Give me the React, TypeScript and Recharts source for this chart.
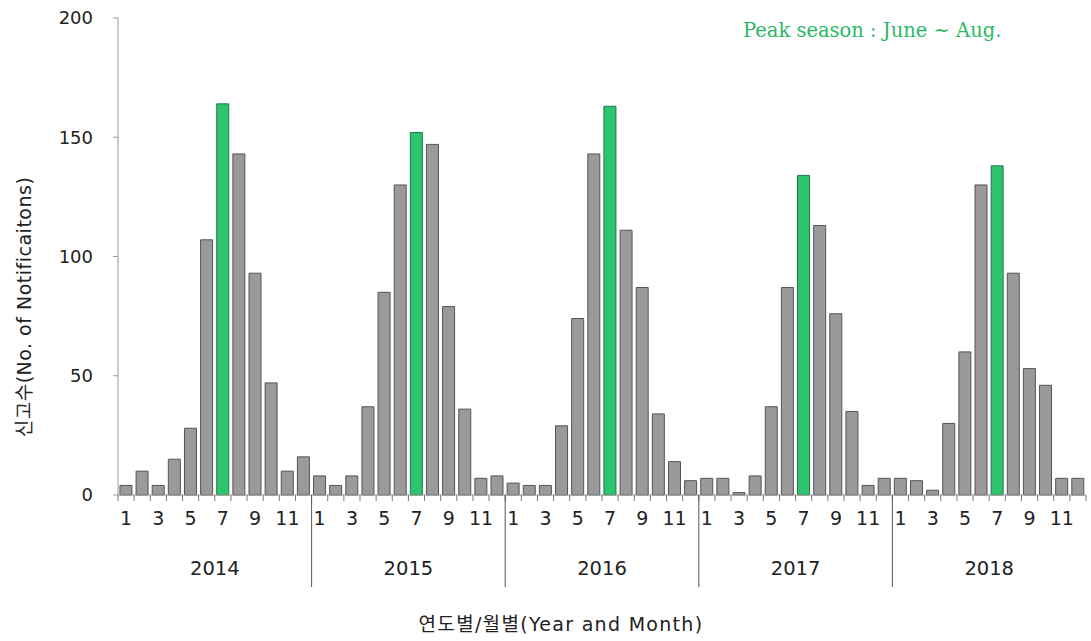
import React from 'react';
import { BarChart, Bar, XAxis, YAxis, Cell, Label } from 'recharts';

const years = [2014, 2015, 2016, 2017, 2018];
const months = [1, 2, 3, 4, 5, 6, 7, 8, 9, 10, 11, 12];
const values2014 = [4, 10, 4, 15, 28, 107, 164, 143, 93, 47, 10, 16];
const values2015 = [8, 4, 8, 37, 85, 130, 152, 147, 79, 36, 7, 8];
const values2016 = [5, 4, 4, 29, 74, 143, 163, 111, 87, 34, 14, 6];
const values2017 = [7, 7, 1, 8, 37, 87, 134, 113, 76, 35, 4, 7];
const values2018 = [7, 6, 2, 30, 60, 130, 138, 93, 53, 46, 7, 7];
const yTicks = [0, 50, 100, 150, 200];
const peakMonth = 7;

const allValues = [values2014, values2015, values2016, values2017, values2018];
const data = years.flatMap((year, yi) =>
  months.map((month, mi) => ({
    key: `${year}-${month}`,
    year,
    month,
    value: allValues[yi][mi],
  }))
);

const BAND = 968 / 60;
const FONT = '"DejaVu Sans", "Noto Sans CJK KR", sans-serif';

const MonthTick = (props: any) => {
  const { x, y, index } = props;
  const d = data[index];
  if (!d) return null;
  const left = x - BAND / 2;
  return (
    <g>
      <line x1={left} x2={left} y1={y} y2={y + 6} stroke="#777" strokeWidth={1} />
      {index === data.length - 1 && (
        <line x1={x + BAND / 2} x2={x + BAND / 2} y1={y} y2={y + 6} stroke="#777" strokeWidth={1} />
      )}
      {d.month % 2 === 1 && (
        <text x={x} y={y + 23} textAnchor="middle" dominantBaseline="central" fontSize={19} fill="#222" fontFamily={FONT}>
          {d.month}
        </text>
      )}
      {d.month === 1 && d.year !== years[0] && (
        <line x1={left} x2={left} y1={y} y2={y + 92} stroke="#555" strokeWidth={1} />
      )}
      {d.month === 6 && (
        <text x={x + BAND / 2} y={y + 73} textAnchor="middle" dominantBaseline="central" fontSize={19.5} fill="#222" fontFamily={FONT}>
          {d.year}
        </text>
      )}
    </g>
  );
};

export default function App() {
  return (
    <div style={{ position: 'absolute', left: 0, top: 0, width: 1091, height: 641, background: '#fff' }}>
      <BarChart
        width={1091}
        height={641}
        data={data}
        margin={{ top: 18, right: 5, left: 58, bottom: 0 }}
        barCategoryGap="12%"
      >
        <XAxis
          dataKey="key"
          interval={0}
          tickLine={false}
          tickSize={0}
          tickMargin={0}
          axisLine={{ stroke: '#999' }}
          height={146}
          tick={<MonthTick />}
        >
          <Label
            content={() => (
              <text x={561} y={624} textAnchor="middle" dominantBaseline="central" fontSize={19} letterSpacing={1.3} fill="#222" fontFamily={FONT}>
                연도별/월별(Year and Month)
              </text>
            )}
          />
        </XAxis>
        <YAxis
          width={60}
          domain={[0, 200]}
          ticks={yTicks}
          interval={0}
          tickSize={5}
          tickMargin={20}
          axisLine={{ stroke: '#999' }}
          tickLine={{ stroke: '#999' }}
          tick={{ fontSize: 18, fill: '#222', fontFamily: FONT }}
        >
          <Label
            content={() => (
              <text
                x={24}
                y={307}
                transform="rotate(-90 24 307)"
                textAnchor="middle"
                dominantBaseline="central"
                fontSize={19}
                letterSpacing={0.5}
                fill="#222"
                fontFamily={FONT}
              >
                신고수(No. of Notificaitons)
              </text>
            )}
          />
        </YAxis>
        <Bar dataKey="value" isAnimationActive={false} stroke="#555" strokeWidth={1}>
          {data.map((d) => (
            <Cell
              key={d.key}
              fill={d.month === peakMonth ? '#2ec46f' : '#9a9a9a'}
              stroke={d.month === peakMonth ? '#1f7a45' : '#555'}
            />
          ))}
        </Bar>
      </BarChart>
      <div
        style={{
          position: 'absolute',
          left: 743,
          top: 19,
          fontFamily: '"DejaVu Serif", serif',
          fontSize: 19.5,
          color: '#2bb866',
          whiteSpace: 'nowrap',
        }}
      >
        Peak season : June ~ Aug.
      </div>
    </div>
  );
}
